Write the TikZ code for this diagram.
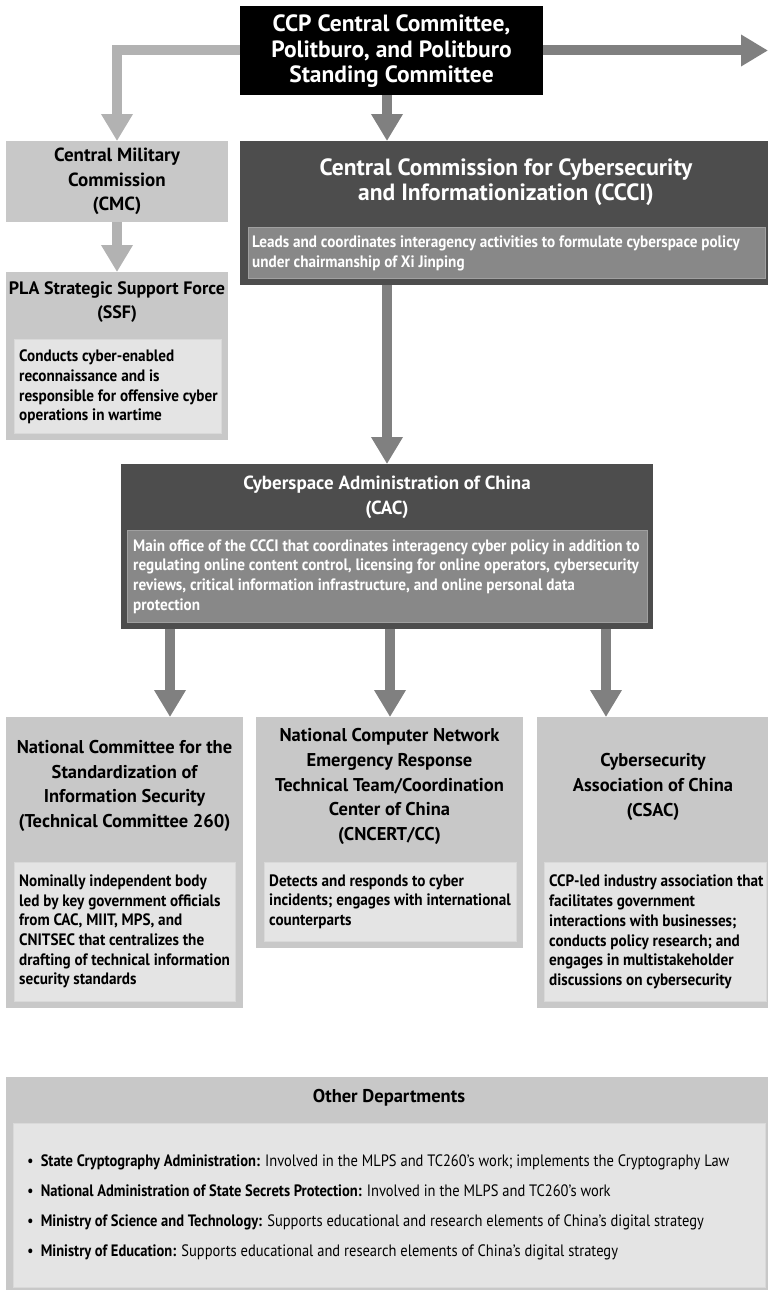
\documentclass[tikz,border=0pt]{standalone}
\usepackage{fontspec}
\setmainfont{PT Sans}
\newfontfamily\descfont{PT Sans}[FakeStretch=0.92]
\newfontfamily\listfont{PT Sans}[FakeStretch=0.88]
\usetikzlibrary{arrows.meta}
\definecolor{lightarr}{HTML}{B2B2B2}
\definecolor{darkarr}{HTML}{808080}
\definecolor{lightbox}{HTML}{C8C8C8}
\definecolor{innerlight}{HTML}{E4E4E4}
\definecolor{darkbox}{HTML}{4D4D4D}
\definecolor{innerdark}{HTML}{888888}
\tikzset{
  boxbase/.style={inner sep=0pt, outer sep=0pt, anchor=north west},
  blackbox/.style={boxbase, fill=black},
  lbox/.style={boxbase, fill=lightbox},
  ilbox/.style={boxbase, fill=innerlight, draw=lightbox!70!white, line width=0.8pt},
  dbox/.style={boxbase, fill=darkbox},
  idbox/.style={boxbase, fill=innerdark, draw=innerdark!80!white, line width=0.8pt},
  ttl/.style={inner sep=0pt, align=center, font=\bfseries\fontsize{18.5}{24.7}\selectfont},
  desc/.style={inner sep=0pt, align=left, anchor=west, font=\descfont\bfseries\fontsize{16.5}{19.7}\selectfont},
  arrbase/.style={line width=10pt, line join=miter, -{Triangle[width=30pt,length=27pt]}},
  larrow/.style={arrbase, draw=lightarr},
  darrow/.style={arrbase, draw=darkarr},
}
\begin{document}
\begin{tikzpicture}[x=1pt,y=-1pt]
\useasboundingbox (0,0) rectangle (768,1290);
% boxes
\node[blackbox, minimum width=303pt, minimum height=89pt] (ccp) at (240,6) {};
\node[lbox, minimum width=222pt, minimum height=81pt] (cmc) at (6,141) {};
\node[lbox, minimum width=222pt, minimum height=168pt] (ssf) at (6,272) {};
\node[ilbox, minimum width=207pt, minimum height=94pt] (ssfi) at (14,339) {};
\node[dbox, minimum width=528pt, minimum height=144pt] (ccci) at (240,141) {};
\node[idbox, minimum width=517pt, minimum height=51pt] (cccii) at (248,227) {};
\node[dbox, minimum width=532pt, minimum height=165pt] (cac) at (121,464) {};
\node[idbox, minimum width=520pt, minimum height=92pt] (caci) at (127,530) {};
\node[lbox, minimum width=237pt, minimum height=291pt] (tc) at (6,717) {};
\node[ilbox, minimum width=221pt, minimum height=139pt] (tci) at (14,862) {};
\node[lbox, minimum width=267pt, minimum height=231pt] (cn) at (256,717) {};
\node[ilbox, minimum width=252pt, minimum height=79pt] (cni) at (264,862) {};
\node[lbox, minimum width=231pt, minimum height=291pt] (cs) at (537,717) {};
\node[ilbox, minimum width=222pt, minimum height=139pt] (csi) at (544,862) {};
\node[lbox, minimum width=762pt, minimum height=213pt] (od) at (6,1077) {};
\node[ilbox, minimum width=752pt, minimum height=164pt] (odi) at (13,1123) {};
% helper coordinates
\coordinate (c1) at (387,0);
\coordinate (a1) at (170,0);
\coordinate (a2) at (390,0);
\coordinate (a3) at (606,0);
\coordinate (rend) at (768,50.5);
% arrows
\draw[larrow] (ccp.west) -| (cmc.north);
\draw[darrow] (ccp.east) -- (rend);
\draw[darrow] (ccp.south -| c1) -- (ccci.north -| c1);
\draw[larrow] (cmc.south) -- (ssf.north);
\draw[darrow] (ccci.south -| c1) -- (cac.north -| c1);
\draw[darrow] (cac.south -| a1) -- (tc.north -| a1);
\draw[darrow] (cac.south -| a2) -- (cn.north -| a2);
\draw[darrow] (cac.south -| a3) -- (cs.north -| a3);
% texts
\node[ttl, text=white, font=\bfseries\fontsize{23.5}{25.5}\selectfont] (ccpt) at ([yshift=-1pt]ccp.center) {CCP Central Committee,\\Politburo, and Politburo\\Standing Committee};
\node[ttl, font=\bfseries\fontsize{19}{24.7}\selectfont] (cmct) at (cmc.center) {Central Military\\Commission\\(CMC)};
\node[ttl, font=\bfseries\fontsize{18}{24}\selectfont] (ssft) at (117,302.5) {PLA Strategic Support Force\\(SSF)};
\node[desc] (ssfd) at (19,387) {Conducts cyber-enabled\\reconnaissance and is\\responsible for offensive cyber\\operations in wartime};
\node[ttl, text=white, font=\bfseries\fontsize{23.5}{24.5}\selectfont] (cccit) at (506,182) {Central Commission for Cybersecurity\\and Informationization (CCCI)};
\node[desc, text=white] (cccid) at (252,253.5) {Leads and coordinates interagency activities to formulate cyberspace policy\\under chairmanship of Xi Jinping};
\node[ttl, text=white, font=\bfseries\fontsize{19}{24.7}\selectfont] (cact) at (387,497.5) {Cyberspace Administration of China\\(CAC)};
\node[desc, text=white] (cacd) at (133,576.5) {Main office of the CCCI that coordinates interagency cyber policy in addition to\\regulating online content control, licensing for online operators, cybersecurity\\reviews, critical information infrastructure, and online personal data\\protection};
\node[ttl] (tct) at (124.5,786) {National Committee for the\\Standardization of\\Information Security\\(Technical Committee 260)};
\node[desc] (tcd) at (19,931.5) {Nominally independent body\\led by key government officials\\from CAC, MIIT, MPS, and\\CNITSEC that centralizes the\\drafting of technical information\\security standards};
\node[ttl] (cnt) at (389.5,786.5) {National Computer Network\\Emergency Response\\Technical Team/Coordination\\Center of China\\(CNCERT/CC)};
\node[desc] (cnd) at (269,901.5) {Detects and responds to cyber\\incidents; engages with international\\counterparts};
\node[ttl] (cst) at (653,787) {Cybersecurity\\Association of China\\(CSAC)};
\node[desc] (csd) at (549,932) {CCP-led industry association that\\facilitates government\\interactions with businesses;\\conducts policy research; and\\engages in multistakeholder\\discussions on cybersecurity};
\node[ttl] (odt) at (389,1098) {Other Departments};
\node[inner sep=0pt, align=left, anchor=west, font=\listfont\fontsize{16.5}{30}\selectfont] (odl) at (27,1207) {%
\textbullet\hspace{7pt}\textbf{State Cryptography Administration:} Involved in the MLPS and TC260’s work; implements the Cryptography Law\\
\textbullet\hspace{7pt}\textbf{National Administration of State Secrets Protection:} Involved in the MLPS and TC260’s work\\
\textbullet\hspace{7pt}\textbf{Ministry of Science and Technology:} Supports educational and research elements of China’s digital strategy\\
\textbullet\hspace{7pt}\textbf{Ministry of Education:} Supports educational and research elements of China’s digital strategy};
\end{tikzpicture}
\end{document}
